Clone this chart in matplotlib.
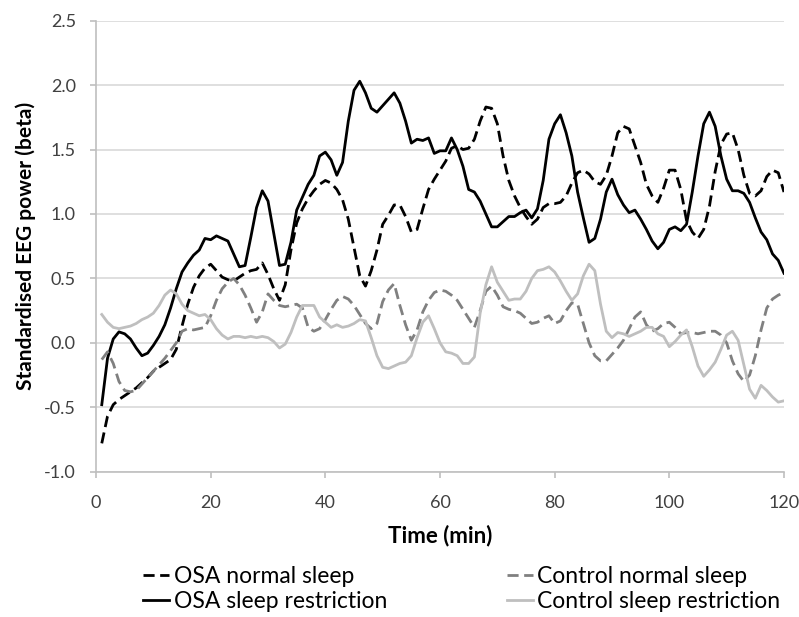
import matplotlib
matplotlib.use("Agg")
import matplotlib.pyplot as plt
from matplotlib.ticker import FormatStrFormatter

plt.rcParams['font.family'] = ['Lato', 'DejaVu Sans']

# 시간 축 (분)
minutes = list(range(1, 121))

# OSA normal sleep
osa_normal = [
    -0.78, -0.57, -0.48, -0.44, -0.41, -0.38, -0.35, -0.31, -0.27, -0.22,
    -0.19, -0.16, -0.13, -0.05, 0.13, 0.30, 0.43, 0.52, 0.58, 0.61,
    0.56, 0.51, 0.49, 0.48, 0.51, 0.54, 0.56, 0.57, 0.62, 0.53,
    0.42, 0.33, 0.45, 0.72, 0.93, 1.04, 1.12, 1.18, 1.23, 1.26,
    1.24, 1.19, 1.11, 0.96, 0.74, 0.52, 0.44, 0.56, 0.72, 0.92,
    0.99, 1.07, 1.07, 0.98, 0.86, 0.88, 1.04, 1.19, 1.27, 1.34,
    1.41, 1.51, 1.53, 1.50, 1.51, 1.58, 1.72, 1.83, 1.82, 1.70,
    1.45, 1.26, 1.14, 1.05, 0.98, 0.92, 0.96, 1.05, 1.08, 1.08,
    1.09, 1.14, 1.24, 1.32, 1.34, 1.31, 1.25, 1.23, 1.30, 1.45,
    1.63, 1.68, 1.66, 1.53, 1.40, 1.23, 1.14, 1.09, 1.20, 1.34,
    1.34, 1.19, 0.95, 0.86, 0.81, 0.88, 1.06, 1.33, 1.54, 1.62,
    1.63, 1.50, 1.30, 1.16, 1.14, 1.18, 1.29, 1.34, 1.32, 1.17,
]

# OSA sleep restriction
osa_restrict = [
    -0.48, -0.12, 0.03, 0.085, 0.07, 0.03, -0.04, -0.10, -0.08, -0.02,
    0.05, 0.14, 0.27, 0.42, 0.55, 0.62, 0.68, 0.72, 0.81, 0.80,
    0.83, 0.81, 0.79, 0.69, 0.59, 0.60, 0.82, 1.05, 1.18, 1.10,
    0.85, 0.60, 0.61, 0.78, 1.03, 1.13, 1.23, 1.30, 1.45, 1.48,
    1.42, 1.30, 1.40, 1.72, 1.96, 2.03, 1.94, 1.82, 1.79, 1.84,
    1.89, 1.94, 1.86, 1.72, 1.55, 1.58, 1.57, 1.59, 1.47, 1.49,
    1.49, 1.59, 1.50, 1.37, 1.19, 1.17, 1.10, 1.00, 0.90, 0.90,
    0.94, 0.98, 0.98, 1.01, 1.03, 0.97, 1.04, 1.26, 1.58, 1.70,
    1.77, 1.63, 1.45, 1.17, 0.97, 0.78, 0.81, 0.96, 1.17, 1.27,
    1.15, 1.07, 1.01, 1.03, 0.96, 0.88, 0.79, 0.73, 0.78, 0.88,
    0.90, 0.87, 0.92, 1.17, 1.45, 1.70, 1.79, 1.68, 1.45, 1.27,
    1.18, 1.18, 1.16, 1.09, 0.97, 0.86, 0.80, 0.69, 0.64, 0.54,
]

# Control normal sleep
ctl_normal = [
    -0.13, -0.07, -0.16, -0.30, -0.37, -0.38, -0.37, -0.32, -0.27, -0.22,
    -0.17, -0.12, -0.06, 0.00, 0.09, 0.11, 0.10, 0.11, 0.12, 0.21,
    0.33, 0.42, 0.47, 0.50, 0.45, 0.37, 0.27, 0.16, 0.24, 0.38,
    0.33, 0.29, 0.28, 0.29, 0.30, 0.27, 0.12, 0.09, 0.11, 0.18,
    0.26, 0.33, 0.36, 0.34, 0.29, 0.22, 0.15, 0.11, 0.15, 0.32,
    0.41, 0.46, 0.29, 0.14, 0.02, 0.10, 0.24, 0.33, 0.39, 0.41,
    0.40, 0.37, 0.33, 0.26, 0.19, 0.12, 0.25, 0.40, 0.44, 0.37,
    0.28, 0.26, 0.25, 0.23, 0.19, 0.15, 0.16, 0.19, 0.21, 0.15,
    0.17, 0.25, 0.31, 0.30, 0.15, 0.00, -0.10, -0.14, -0.14, -0.09,
    -0.04, 0.02, 0.11, 0.20, 0.24, 0.14, 0.09, 0.11, 0.15, 0.16,
    0.12, 0.07, 0.08, 0.08, 0.07, 0.08, 0.09, 0.09, 0.06, 0.00,
    -0.14, -0.24, -0.30, -0.25, -0.10, 0.10, 0.27, 0.34, 0.37, 0.39,
]

# Control sleep restriction
ctl_restrict = [
    0.22, 0.16, 0.12, 0.11, 0.12, 0.13, 0.15, 0.18, 0.20, 0.23,
    0.29, 0.37, 0.41, 0.38, 0.30, 0.25, 0.23, 0.21, 0.22, 0.18,
    0.11, 0.06, 0.03, 0.05, 0.05, 0.04, 0.05, 0.04, 0.05, 0.04,
    0.01, -0.04, -0.01, 0.08, 0.20, 0.29, 0.29, 0.29, 0.20, 0.16,
    0.12, 0.14, 0.12, 0.13, 0.15, 0.18, 0.17, 0.04, -0.10, -0.19,
    -0.20, -0.18, -0.16, -0.15, -0.10, 0.04, 0.16, 0.21, 0.11, 0.00,
    -0.07, -0.08, -0.10, -0.16, -0.16, -0.11, 0.23, 0.45, 0.59, 0.47,
    0.40, 0.33, 0.34, 0.34, 0.40, 0.50, 0.56, 0.57, 0.59, 0.55,
    0.48, 0.40, 0.33, 0.38, 0.52, 0.61, 0.56, 0.30, 0.09, 0.04,
    0.08, 0.07, 0.05, 0.07, 0.09, 0.12, 0.12, 0.07, 0.05, -0.03,
    0.01, 0.06, 0.10, -0.03, -0.18, -0.26, -0.21, -0.15, -0.05, 0.06,
    0.09, 0.02, -0.17, -0.36, -0.43, -0.33, -0.37, -0.42, -0.46, -0.45,
]

GRID = "#d9d9d9"
AXIS = "#bfbfbf"

fig = plt.figure(figsize=(7.99, 6.17), dpi=100)
ax = fig.add_axes([0.1202, 0.2355, 0.861, 0.731])

lw = 2.0
l1, = ax.plot(minutes, osa_normal, color="black", lw=lw, dashes=(4, 2),
              label="OSA normal sleep")
l2, = ax.plot(minutes, osa_restrict, color="black", lw=lw,
              label="OSA sleep restriction")
l3, = ax.plot(minutes, ctl_normal, color="#808080", lw=lw, dashes=(4, 2),
              label="Control normal sleep")
l4, = ax.plot(minutes, ctl_restrict, color="#bfbfbf", lw=lw,
              label="Control sleep restriction")

ax.set_xlim(0, 120)
ax.set_ylim(-1.0, 2.5)
ax.set_xticks(range(0, 121, 20))
ax.set_yticks([-1.0, -0.5, 0.0, 0.5, 1.0, 1.5, 2.0, 2.5])
ax.yaxis.set_major_formatter(FormatStrFormatter("%.1f"))

ax.grid(axis="y", color=GRID, lw=1.2)
ax.set_axisbelow(True)
for s in ["top", "right"]:
    ax.spines[s].set_visible(False)
ax.spines["left"].set_color(AXIS)
ax.spines["bottom"].set_color(AXIS)
ax.spines["left"].set_linewidth(1.2)
ax.spines["bottom"].set_linewidth(1.2)
ax.tick_params(axis="both", colors=AXIS, length=4.5, width=1.2,
               labelcolor="#404040", labelsize=13)
ax.tick_params(axis="y", pad=10)
ax.tick_params(axis="x", pad=12)

ax.set_xlabel("Time (min)", fontsize=16, fontweight="bold", labelpad=10)
ax.set_ylabel("Standardised EEG power (beta)", fontsize=15,
              fontweight="bold", labelpad=6)

fig.legend(handles=[l1, l2, l3, l4], loc="center left",
           bbox_to_anchor=(0.179, 0.0454), ncol=2, frameon=False,
           fontsize=16.5, handlelength=1.15, handletextpad=0.2,
           columnspacing=5.2, labelspacing=0.15, borderpad=0,
           borderaxespad=0)

plt.savefig("out.png", dpi=100)
